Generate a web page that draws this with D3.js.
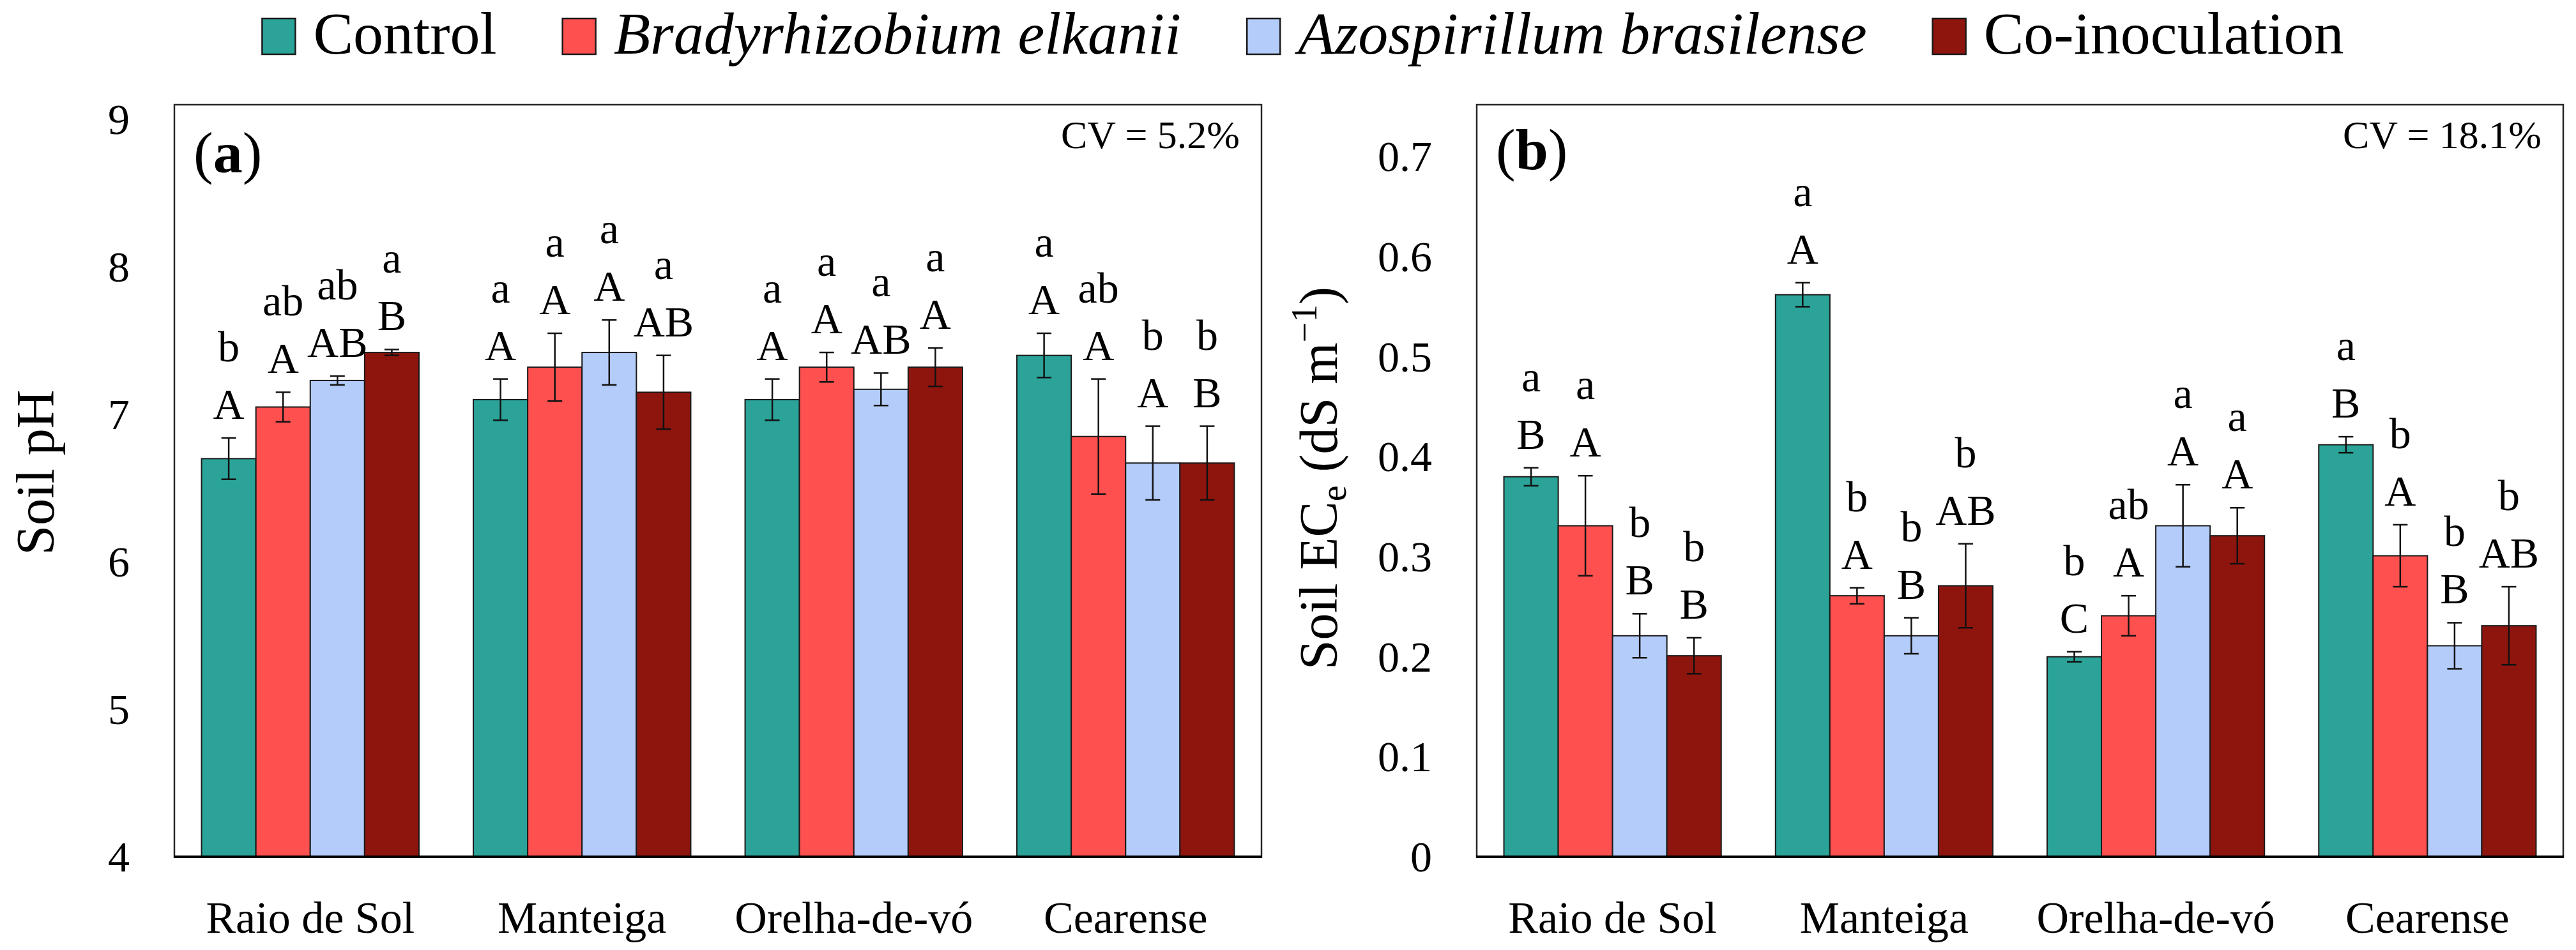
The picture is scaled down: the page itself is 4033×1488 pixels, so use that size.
<!DOCTYPE html>
<html>
<head>
<meta charset="utf-8">
<script src="https://cdn.jsdelivr.net/npm/d3@7"></script>
<style>
  body { margin: 0; background: #fff; }
  svg { display: block; }
</style>
</head>
<body>
<script>
// soil pH (a) and soil ECe (b) per cultivar x inoculation treatment

var cultivars = ["Raio de Sol", "Manteiga", "Orelha-de-vó", "Cearense"];
var treatments = ["Control", "Bradyrhizobium elkanii", "Azospirillum brasilense", "Co-inoculation"];
var treatmentItalic = [false, true, true, false];

// rows = cultivars, cols = treatments
var phMean = [
	[6.70, 7.05, 7.23, 7.42],
	[7.10, 7.32, 7.42, 7.15],
	[7.10, 7.32, 7.17, 7.32],
	[7.40, 6.85, 6.67, 6.67]
];
var phErr = [
	[0.14, 0.10, 0.03, 0.02],
	[0.14, 0.23, 0.22, 0.25],
	[0.14, 0.10, 0.11, 0.13],
	[0.15, 0.39, 0.25, 0.25]
];
var phLower = [["b", "ab", "ab", "a"], ["a", "a", "a", "a"], ["a", "a", "a", "a"], ["a", "ab", "b", "b"]];
var phUpper = [["A", "A", "AB", "B"], ["A", "A", "A", "AB"], ["A", "A", "AB", "A"], ["A", "A", "A", "B"]];
var phTicks = [4, 5, 6, 7, 8, 9];

var ecMean = [
	[0.380, 0.331, 0.221, 0.201],
	[0.562, 0.261, 0.221, 0.271],
	[0.200, 0.241, 0.331, 0.321],
	[0.412, 0.301, 0.211, 0.231]
];
var ecErr = [
	[0.009, 0.050, 0.022, 0.018],
	[0.012, 0.008, 0.018, 0.042],
	[0.005, 0.020, 0.041, 0.028],
	[0.008, 0.031, 0.023, 0.039]
];
var ecLower = [["a", "a", "b", "b"], ["a", "b", "b", "b"], ["b", "ab", "a", "a"], ["a", "b", "b", "b"]];
var ecUpper = [["B", "A", "B", "B"], ["A", "A", "B", "AB"], ["C", "A", "A", "A"], ["B", "A", "B", "AB"]];
var ecTicks = [0, 0.1, 0.2, 0.3, 0.4, 0.5, 0.6, 0.7];

var colors = ["#2ba398", "#ff5050", "#b4ccf9", "#8e150e"];
var serif = "'Liberation Serif', 'DejaVu Serif', serif";

var W = 4033, H = 1488;
var svg = d3.select("body").append("svg")
	.attr("width", W)
	.attr("height", H)
	.attr("font-family", serif);

svg.append("rect").attr("width", W).attr("height", H).attr("fill", "#fff");

// legend, centred over the figure
var legend = svg.append("g");
var lx = 0;
treatments.forEach(function(t, i) {
	var item = legend.append("g").attr("transform", "translate(" + lx + ",0)");
	item.append("rect")
		.attr("x", 0).attr("y", 29)
		.attr("width", 52).attr("height", 56)
		.attr("fill", colors[i])
		.attr("stroke", "#1a1a1a").attr("stroke-width", 2.5);
	var txt = item.append("text")
		.attr("x", 80).attr("y", 84)
		.attr("font-size", 94)
		.attr("font-style", treatmentItalic[i] ? "italic" : "normal")
		.text(t);
	lx += 80 + txt.node().getComputedTextLength() + 103;
});
lx -= 103;
legend.attr("transform", "translate(" + (2040 - lx / 2) + ",0)");

function drawPanel(opt) {
	var top = 164, bottom = 1342;
	var g = svg.append("g");

	var x0 = d3.scaleBand()
		.domain(cultivars)
		.range([opt.left, opt.right])
		.paddingInner(0.2)
		.paddingOuter(0.1);

	var x1 = d3.scaleBand()
		.domain(treatments)
		.range([0, x0.bandwidth()]);

	var y = d3.scaleLinear()
		.domain(opt.domain)
		.range([bottom, top]);

	// plot frame
	g.append("rect")
		.attr("x", opt.left).attr("y", top)
		.attr("width", opt.right - opt.left).attr("height", bottom - top)
		.attr("fill", "none")
		.attr("stroke", "#262626").attr("stroke-width", 2.5);

	var groups = g.selectAll(".grp")
		.data(cultivars)
		.enter().append("g")
		.attr("class", "grp")
		.attr("transform", function(d) { return "translate(" + x0(d) + ",0)"; });

	groups.each(function(c, ci) {
		var grp = d3.select(this);
		var rows = treatments.map(function(t, ti) {
			return { t: t, ti: ti, m: opt.mean[ci][ti], e: opt.err[ci][ti],
				lo: opt.lower[ci][ti], up: opt.upper[ci][ti] };
		});

		grp.selectAll("rect")
			.data(rows)
			.enter().append("rect")
			.attr("x", function(d) { return x1(d.t); })
			.attr("y", function(d) { return y(d.m); })
			.attr("width", x1.bandwidth())
			.attr("height", function(d) { return bottom - y(d.m); })
			.attr("fill", function(d) { return colors[d.ti]; })
			.attr("stroke", "#1a1a1a")
			.attr("stroke-width", 2);

		var eb = grp.selectAll(".err")
			.data(rows)
			.enter().append("g")
			.attr("class", "err")
			.attr("stroke", "#111")
			.attr("stroke-width", 2.5)
			.attr("transform", function(d) { return "translate(" + (x1(d.t) + x1.bandwidth() / 2) + ",0)"; });
		eb.append("line")
			.attr("y1", function(d) { return y(d.m - d.e); })
			.attr("y2", function(d) { return y(d.m + d.e); });
		eb.append("line")
			.attr("x1", -11.5).attr("x2", 11.5)
			.attr("y1", function(d) { return y(d.m + d.e); })
			.attr("y2", function(d) { return y(d.m + d.e); });
		eb.append("line")
			.attr("x1", -11.5).attr("x2", 11.5)
			.attr("y1", function(d) { return y(d.m - d.e); })
			.attr("y2", function(d) { return y(d.m - d.e); });

		var lab = grp.selectAll(".lab")
			.data(rows)
			.enter().append("g")
			.attr("class", "lab")
			.attr("font-size", 68)
			.attr("text-anchor", "middle");
		lab.append("text")
			.attr("x", function(d) { return x1(d.t) + x1.bandwidth() / 2; })
			.attr("y", function(d) { return y(d.m + d.e) - 30; })
			.text(function(d) { return d.up; });
		lab.append("text")
			.attr("x", function(d) { return x1(d.t) + x1.bandwidth() / 2; })
			.attr("y", function(d) { return y(d.m + d.e) - 120; })
			.text(function(d) { return d.lo; });
	});

	// bottom axis line
	g.append("line")
		.attr("x1", opt.left - 1).attr("x2", opt.right + 1)
		.attr("y1", bottom).attr("y2", bottom)
		.attr("stroke", "#000").attr("stroke-width", 4);

	// y tick labels
	g.selectAll(".ytick")
		.data(opt.ticks)
		.enter().append("text")
		.attr("class", "ytick")
		.attr("x", opt.left - 70)
		.attr("y", function(d) { return y(d); })
		.attr("dominant-baseline", "central")
		.attr("text-anchor", "end")
		.attr("font-size", 68)
		.text(function(d) { return d; });

	// category labels
	g.selectAll(".xlab")
		.data(cultivars)
		.enter().append("text")
		.attr("class", "xlab")
		.attr("x", function(d) { return x0(d) + x0.bandwidth() / 2; })
		.attr("y", 1461)
		.attr("text-anchor", "middle")
		.attr("font-size", 70)
		.text(function(d) { return d; });

	// panel letter
	var pl = g.append("text")
		.attr("x", opt.left + 30).attr("y", opt.letterY)
		.attr("font-size", 92);
	pl.append("tspan").text("(");
	pl.append("tspan").attr("font-weight", "bold").text(opt.letter);
	pl.append("tspan").text(")");

	// CV
	g.append("text")
		.attr("x", opt.right - 34).attr("y", 232)
		.attr("text-anchor", "end")
		.attr("font-size", 62)
		.text(opt.cv);

	return g;
}

var ga = drawPanel({
	left: 273, right: 1975, domain: [4, 9.1], ticks: phTicks,
	mean: phMean, err: phErr, lower: phLower, upper: phUpper,
	letter: "a", letterY: 270, cv: "CV = 5.2%"
});

var gb = drawPanel({
	left: 2312, right: 4013, domain: [0, 0.752], ticks: ecTicks,
	mean: ecMean, err: ecErr, lower: ecLower, upper: ecUpper,
	letter: "b", letterY: 265, cv: "CV = 18.1%"
});

// y axis titles
ga.append("text")
	.attr("transform", "translate(84,740) rotate(-90)")
	.attr("text-anchor", "middle")
	.attr("font-size", 84)
	.text("Soil pH");

var tb = gb.append("text")
	.attr("transform", "translate(2093,749) rotate(-90)")
	.attr("text-anchor", "middle")
	.attr("font-size", 84);
tb.append("tspan").text("Soil EC");
tb.append("tspan").attr("font-size", 56).attr("dy", 14).text("e");
tb.append("tspan").attr("dy", -14).text(" (dS m");
tb.append("tspan").attr("font-size", 56).attr("dy", -32).text("\u22121");
tb.append("tspan").attr("dy", 32).text(")");
</script>
</body>
</html>
